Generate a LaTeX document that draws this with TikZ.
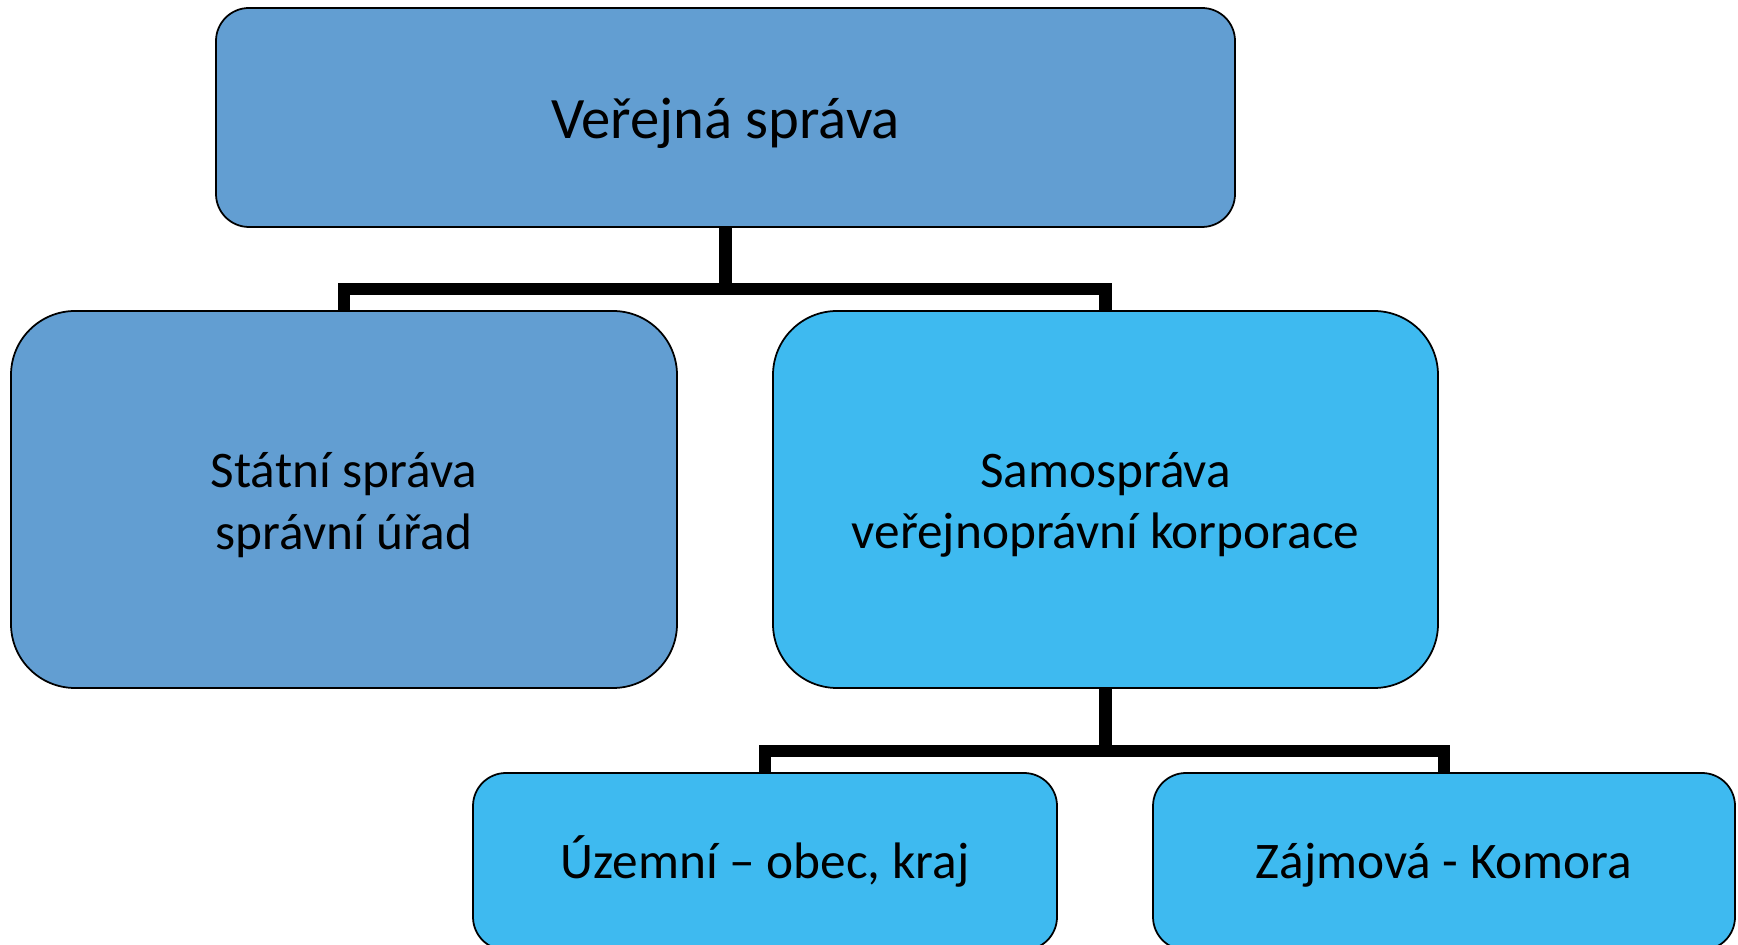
\documentclass[tikz,border=0pt]{standalone}
\usepackage{fontspec}
\setmainfont{Carlito}
\definecolor{statblue}{HTML}{629ED2}
\definecolor{samoblue}{HTML}{3EBAF0}
\begin{document}
\begin{tikzpicture}[
    box/.style={rectangle,draw=black,line width=0.5pt},
    boxtext/.style={align=center,yshift=-1.6pt,
      font=\fontsize{14.6}{17.5}\selectfont},
    link/.style={line width=3.6pt}]
      \useasboundingbox (0,0) rectangle (17.38,-9.45);
      \clip (0,0) rectangle (17.38,-9.45);
      \node[box,rounded corners=0.33cm,fill=statblue,minimum width=10.19cm,
      minimum height=2.19cm,label={[boxtext,font=\fontsize{16.7}{20}\selectfont]
      center:Veřejná správa}] (verejna) at (7.255,-1.175) {};
      \node[box,rounded corners=0.64cm,fill=statblue,minimum width=6.66cm,
      minimum height=3.77cm,label={[boxtext]center:Státní správa\\správní úřad}]
      (statni) at (3.44,-4.995) {};
      \node[box,rounded corners=0.64cm,fill=samoblue,minimum width=6.65cm,
      minimum height=3.77cm,
      label={[boxtext]center:Samospráva\\veřejnoprávní korporace}]
      (samosprava) at (11.055,-4.995) {};
      \node[box,rounded corners=0.33cm,fill=samoblue,minimum width=5.84cm,
      minimum height=1.77cm,label={[boxtext,yshift=1.5pt]center:{Územní – obec, kraj}}]
      (uzemni) at (7.65,-8.615) {};
      \node[box,rounded corners=0.33cm,fill=samoblue,minimum width=5.82cm,
      minimum height=1.77cm,label={[boxtext,yshift=0.6pt]center:Zájmová - Komora}]
      (zajmova) at (14.44,-8.615) {};
      \draw[link] (verejna.south) -- ++(0,-0.61) -| (statni.north);
      \draw[link] (verejna.south) -- ++(0,-0.61) -| (samosprava.north);
      \draw[link] (samosprava.south) -- ++(0,-0.62) -| (uzemni.north);
      \draw[link] (samosprava.south) -- ++(0,-0.62) -| (zajmova.north);
    \end{tikzpicture}
\end{document}
